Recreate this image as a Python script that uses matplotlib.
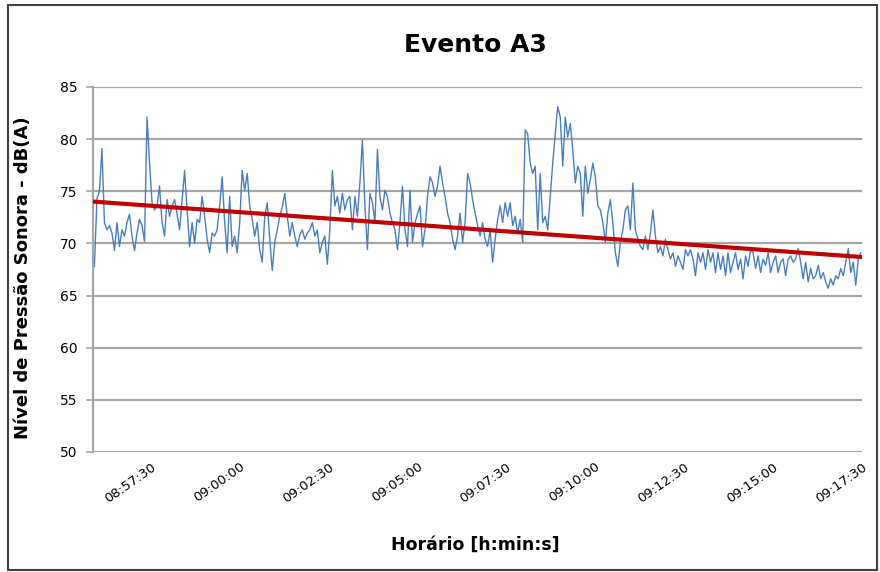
import numpy as np
import pandas as pd
import matplotlib
matplotlib.use("Agg")
import matplotlib.pyplot as plt
import matplotlib.dates as mdates
from matplotlib.patches import Rectangle

# sound level readings, dB(A), evenly spaced from 08:55:55 to 09:17:28
nivel = [
    67.8, 74.3, 75.0, 79.1, 72.0, 71.3, 71.7, 71.0, 69.3, 72.0, 69.7, 71.3, 70.7,
    72.0, 72.8, 70.7, 69.3, 71.0, 72.3, 71.7, 70.2, 82.1, 77.7, 73.9, 73.2, 73.6,
    75.5, 72.0, 70.7, 74.2, 72.6, 73.6, 74.2, 72.8, 71.3, 74.2, 77.0, 73.2, 69.7,
    72.0, 70.0, 72.3,
    72.0, 74.5, 72.6, 70.4, 69.1, 71.0, 70.7, 71.3, 73.6, 76.4, 72.0, 69.1, 74.5,
    69.7, 70.7, 69.1, 72.0, 77.0, 75.1, 76.7, 73.6, 72.3, 70.7, 72.0, 69.4, 68.2,
    72.6, 73.9, 70.4, 67.4, 70.1, 71.3, 72.6, 73.5, 74.8, 72.6, 70.7, 72.0, 70.7,
    69.7, 70.8, 71.3, 70.4, 71.0,
    71.3, 72.0, 70.7, 71.3, 69.1, 70.1, 70.7, 68.0, 71.3, 77.0, 73.6, 74.5, 72.9,
    74.8, 73.2, 74.2, 74.5, 71.3, 74.5, 72.6, 75.8, 79.9, 73.6, 69.4, 74.8, 73.9,
    72.0, 79.0, 74.5, 73.2, 75.1, 74.5, 72.9, 72.0, 71.3, 69.4, 72.0, 75.5, 71.3,
    69.7, 75.1, 70.1, 72.0, 72.8, 73.6,
    69.7, 71.3, 74.5, 76.4, 75.8, 74.5, 75.5, 77.4, 75.8, 74.5, 72.9, 72.0, 70.4,
    69.4, 70.7, 72.9, 70.1, 72.0, 76.7, 75.8, 74.2, 72.9, 71.7, 70.7, 72.0, 70.4,
    69.7, 71.3, 68.2, 70.4, 72.3, 73.6, 72.0, 73.9, 72.6, 73.9, 71.7, 72.6, 71.0,
    72.3, 70.1, 80.9, 80.5, 77.7,
    76.7, 77.4, 71.3, 76.7, 72.0, 72.6, 71.3, 74.5, 77.7, 80.5, 83.1, 82.1, 77.4,
    82.1, 80.2, 81.5, 79.0, 75.8, 77.4, 76.7, 72.6, 77.4, 74.8, 76.1, 77.7, 76.4,
    73.6, 73.2, 72.0, 70.1, 72.9, 74.2, 72.0, 69.1, 67.8, 70.1, 71.3, 73.2, 73.6,
    71.3, 75.8, 71.3, 70.4, 69.7,
    69.4, 70.7, 69.4, 71.0, 73.2, 70.7, 69.1, 69.7, 68.8, 70.4, 69.4, 68.5, 69.1,
    67.8, 68.8, 68.2, 67.5, 69.4, 68.8, 69.4, 68.5, 66.9, 69.1, 68.2, 69.1, 67.5,
    69.4, 68.2, 69.1, 67.2, 69.1, 67.5, 68.8, 66.9, 69.1, 67.2, 68.2, 69.1, 67.5,
    68.5, 66.6, 68.8, 67.8, 69.4,
    69.1, 67.6, 68.8, 67.2, 68.5, 67.9, 69.1, 67.2, 68.2, 68.8, 67.2, 68.2, 68.5,
    66.9, 68.5, 68.8, 68.2, 68.5, 69.5, 68.2, 66.6, 68.2, 66.3, 67.6, 66.6, 66.9,
    67.9, 66.6, 67.2, 66.3, 65.7, 66.6, 66.0, 66.9, 66.6, 67.6, 66.9, 68.2, 69.5,
    67.2, 68.2, 66.0, 68.5, 69.1,
]
inicio = "2000-01-01 08:55:55"
fim = "2000-01-01 09:17:28"
# linear trendline values at the first and last reading
tendencia = [74.0, 68.7]
rotulos_x = ["08:57:30", "09:00:00", "09:02:30", "09:05:00", "09:07:30",
             "09:10:00", "09:12:30", "09:15:00", "09:17:30"]
rotulos_y = [50, 55, 60, 65, 70, 75, 80, 85]

horas = pd.date_range(inicio, fim, periods=len(nivel))
x = mdates.date2num(horas)

fig = plt.figure(figsize=(8.8, 5.72), dpi=100)
ax = fig.add_axes([0.1057, 0.2098, 0.8738, 0.6382])

for v in rotulos_y:
    ax.axhline(v, color="#a6a6a6", lw=1.6, zorder=0)

ax.plot(x, nivel, color="#4a7ebb", lw=1.0, zorder=2)
ax.plot([x[0], x[-1]], tendencia, color="#c00000", lw=3.0, zorder=3)

ax.set_ylim(50, 85)
ax.set_yticks(rotulos_y)
ax.set_xlim(x[0] - 2.4 / 86400, x[-1] + 2 / 86400)
ticks = mdates.date2num(pd.to_datetime(["2000-01-01 " + r for r in rotulos_x]))
ax.set_xticks(ticks)
ax.set_xticklabels(rotulos_x, rotation=35, ha="right", rotation_mode="anchor",
                   fontsize=9.5)
ax.tick_params(axis="x", length=0, pad=6)
ax.tick_params(axis="y", length=5, color="#a6a6a6", width=1.2, labelsize=10, pad=6)

for s in ["top", "right", "bottom"]:
    ax.spines[s].set_visible(False)
ax.spines["left"].set_color("#a6a6a6")
ax.spines["left"].set_linewidth(1.6)

fig.text(0.54, 0.921, "Evento A3", ha="center", va="center",
         fontsize=18, fontweight="bold")
fig.text(0.54, 0.048, "Horário [h:min:s]", ha="center", va="center",
         fontsize=12.5, fontweight="bold")
fig.text(0.026, 0.515, "Nível de Pressão Sonora - dB(A)", ha="center",
         va="center", rotation=90, fontsize=13, fontweight="bold")

# chart border
fig.patches.append(Rectangle((0.009, 0.004), 0.988, 0.988, transform=fig.transFigure,
                             fill=False, edgecolor="#404040", lw=1.5))

fig.savefig("out.png", dpi=100)
